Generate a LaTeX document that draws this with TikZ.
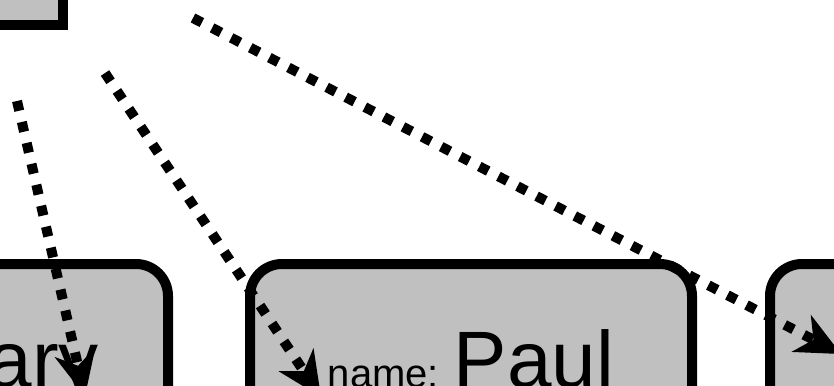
\documentclass[tikz,border=0pt]{standalone}
\usepackage{fontspec}
\setmainfont{Liberation Sans}
\usetikzlibrary{arrows.meta}
\definecolor{boxgray}{RGB}{192,192,192}
\begin{document}
\begin{tikzpicture}[x=1pt,y=-1pt,
  objbox/.style={draw=black, fill=boxgray, line width=10pt, rounded corners=32pt, inner sep=0pt, minimum width=442pt, minimum height=220pt},
  classbox/.style={draw=black, fill=boxgray, line width=10pt, inner sep=0pt, minimum width=300pt, minimum height=200pt},
  link/.style={line width=10pt, dash pattern=on 10pt off 11.5pt, -{Stealth[length=45pt,width=42pt,inset=14pt,line width=0pt]}},
  lbl/.style={anchor=base, inner sep=0pt, font=\fontsize{80}{80}\selectfont}]
\useasboundingbox (0,0) rectangle (834,385);
\clip (0,0) rectangle (834,385);
% class box (top left)
\node[classbox] (cls) at (-87,-75) {};
% object boxes
\node[objbox] (mary) at (-53,374) {};
\node[objbox] (paul) at (471,374) {};
\node[objbox] (third) at (991,374) {};
% labels
\node[lbl] (marylbl) at (-53,387) {{\fontsize{40}{40}\selectfont name: }Mary};
\node[lbl] (paullbl) at (471,387) {{\fontsize{40}{40}\selectfont name: }Paul};
% links
\coordinate (s1) at (17,101);
\coordinate (t1) at (85,396);
\coordinate (s2) at (105,73);
\coordinate (t2) at (321,397);
\coordinate (s3) at (193,18);
\coordinate (t3) at (841,354);
\draw[link] (s1) -- (t1);
\draw[link] (s2) -- (t2);
\draw[link] (s3) -- (t3);
\end{tikzpicture}
\end{document}
